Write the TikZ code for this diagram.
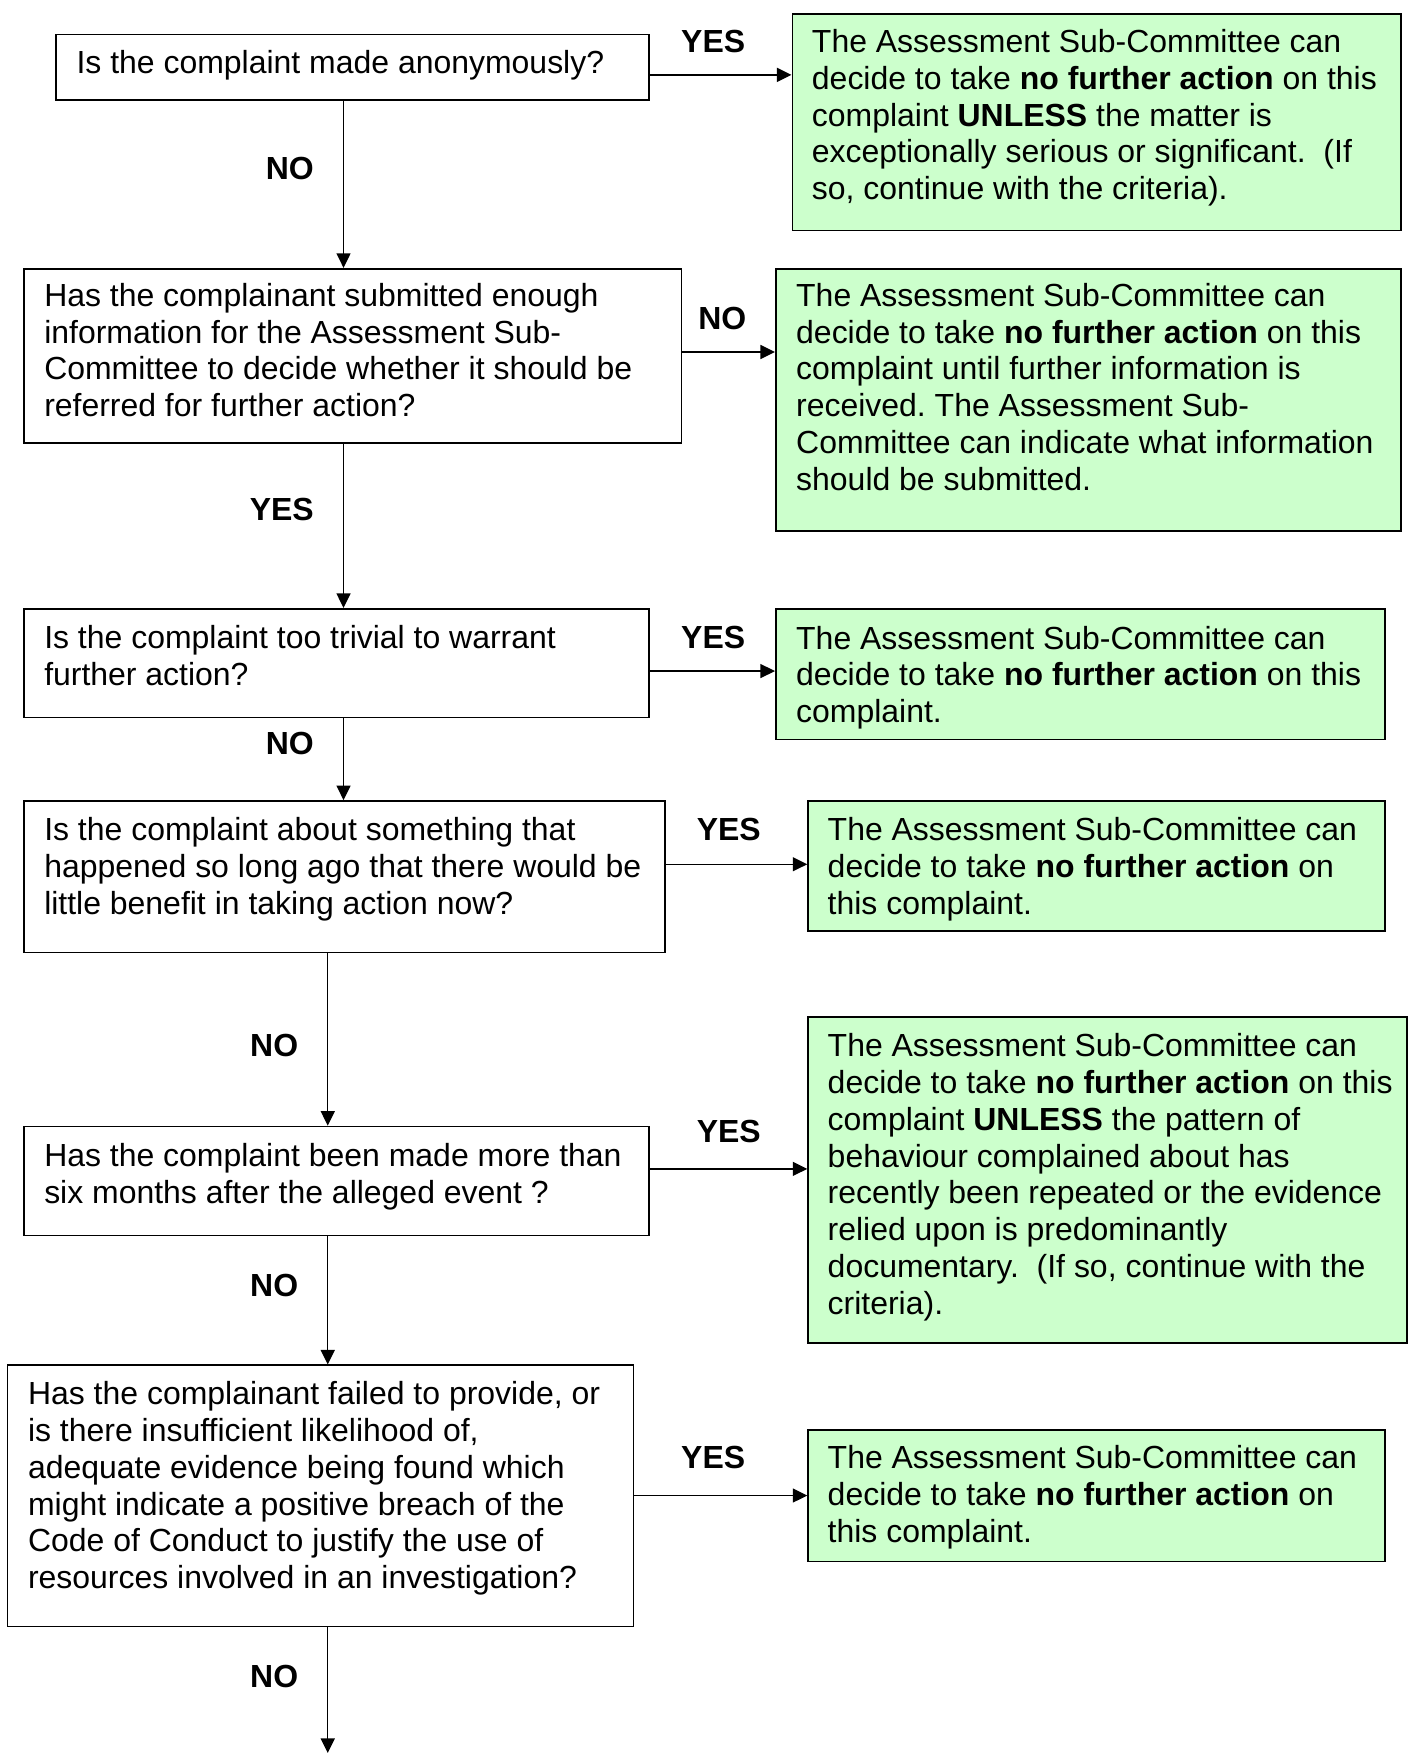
\documentclass[tikz,border=0pt]{standalone}
\usepackage{fontspec}
\setmainfont{Liberation Sans}
\usetikzlibrary{arrows.meta}
\definecolor{paleGreen}{HTML}{CCFFCC}
\frenchspacing
\begin{document}
\begin{tikzpicture}[x=1pt,y=-1pt,
  qbox/.style={draw=black, line width=1.6pt, fill=white, inner sep=0pt, anchor=north west},
  gbox/.style={draw=black, line width=1.6pt, fill=paleGreen, inner sep=0pt, anchor=north west},
  txt/.style={inner sep=0pt, anchor=north west, align=left, font=\fontsize{28.6}{32.9}\selectfont},
  lbl/.style={inner sep=0pt, anchor=base east, font=\fontsize{28.6}{32.9}\selectfont\bfseries},
  arr/.style={line width=1.3pt, -{Triangle[length=13pt,width=12.5pt]}}]
\useasboundingbox (0,0) rectangle (1260,1568.7);
\fill[white] (0,0) rectangle (1260,1568.7);

% question boxes
\node[qbox, minimum width=531pt, minimum height=58.4pt] (q1) at (49,30) {};
\node[qbox, minimum width=588pt, minimum height=155.8pt] (q2) at (21,239.7) {};
\node[qbox, minimum width=559pt, minimum height=97.3pt] (q3) at (21,544) {};
\node[qbox, minimum width=573pt, minimum height=135.5pt] (q4) at (21,716) {};
\node[qbox, minimum width=559pt, minimum height=97.4pt] (q5) at (21,1007.3) {};
\node[qbox, minimum width=560pt, minimum height=233.7pt] (q6) at (6,1221) {};

% outcome boxes
\node[gbox, minimum width=544.5pt, minimum height=193.5pt] (g1) at (708.3,12) {};
\node[gbox, minimum width=559.3pt, minimum height=234.6pt] (g2) at (693.5,239.7) {};
\node[gbox, minimum width=545.2pt, minimum height=117pt] (g3) at (693.5,544) {};
\node[gbox, minimum width=516.3pt, minimum height=116.3pt] (g4) at (722.4,716) {};
\node[gbox, minimum width=535.6pt, minimum height=291.9pt] (g5) at (722.4,909.4) {};
\node[gbox, minimum width=516.3pt, minimum height=117.5pt] (g6) at (722.4,1279) {};

% texts (top = first baseline - strut height)
\node[txt] (q1t) at (68.3,42.8) {\strut Is the complaint made anonymously?};
\node[txt] (q2t) at (39.4,251.0) {\strut Has the complainant submitted enough\\
information for the Assessment Sub-\\
Committee to decide whether it should be\\
referred for further action?};
\node[txt] (q3t) at (39.4,557.0) {\strut Is the complaint too trivial to warrant\\
further action?};
\node[txt] (q4t) at (39.4,729.0) {\strut Is the complaint about something that\\
happened so long ago that there would be\\
little benefit in taking action now?};
\node[txt] (q5t) at (39.4,1020.7) {\strut Has the complaint been made more than\\
six months after the alleged event ?};
\node[txt] (q6t) at (24.9,1233.8) {\strut Has the complainant failed to provide, or\\
is there insufficient likelihood of,\\
adequate evidence being found which\\
might indicate a positive breach of the\\
Code of Conduct to justify the use of\\
resources involved in an investigation?};

\node[txt] (g1t) at (726.4,23.9) {\strut The Assessment Sub-Committee can\\
decide to take \textbf{no further action} on this\\
complaint \textbf{UNLESS} the matter is\\
exceptionally serious or significant.\ \ (If\\
so, continue with the criteria).};
\node[txt] (g2t) at (712.3,251.0) {\strut The Assessment Sub-Committee can\\
decide to take \textbf{no further action} on this\\
complaint until further information is\\
received. The Assessment Sub-\\
Committee can indicate what information\\
should be submitted.};
\node[txt] (g3t) at (712.3,557.7) {\strut The Assessment Sub-Committee can\\
decide to take \textbf{no further action} on this\\
complaint.};
\node[txt] (g4t) at (740.5,729.0) {\strut The Assessment Sub-Committee can\\
decide to take \textbf{no further action} on\\
this complaint.};
\node[txt] (g5t) at (740.5,922.4) {\strut The Assessment Sub-Committee can\\
decide to take \textbf{no further action} on this\\
complaint \textbf{UNLESS} the pattern of\\
behaviour complained about has\\
recently been repeated or the evidence\\
relied upon is predominantly\\
documentary.\ \ (If so, continue with the\\
criteria).};
\node[txt] (g6t) at (740.5,1291.3) {\strut The Assessment Sub-Committee can\\
decide to take \textbf{no further action} on\\
this complaint.};

% connector guide coordinates
\coordinate (vA) at (307.4,0);
\coordinate (vB) at (293.3,0);
\coordinate (h1) at (0,67);
\coordinate (h2) at (0,315);
\coordinate (h3) at (0,600.5);
\coordinate (h4) at (0,773.4);
\coordinate (h5) at (0,1046);
\coordinate (h6) at (0,1338.3);
\coordinate (endpt) at (293.3,1568.7);

% vertical connectors
\draw[arr] (q1.south -| vA) -- (q2.north -| vA);
\draw[arr] (q2.south -| vA) -- (q3.north -| vA);
\draw[arr] (q3.south -| vA) -- (q4.north -| vA);
\draw[arr] (q4.south -| vB) -- (q5.north -| vB);
\draw[arr] (q5.south -| vB) -- (q6.north -| vB);
\draw[arr] (q6.south -| vB) -- (endpt);

% horizontal connectors
\draw[arr] (q1.east |- h1) -- (g1.west |- h1);
\draw[arr] (q2.east |- h2) -- (g2.west |- h2);
\draw[arr] (q3.east |- h3) -- (g3.west |- h3);
\draw[arr] (q4.east |- h4) -- (g4.west |- h4);
\draw[arr] (q5.east |- h5) -- (g5.west |- h5);
\draw[arr] (q6.east |- h6) -- (g6.west |- h6);

% labels
\node[lbl] (l1) at (667,47) {YES};
\node[lbl] (l2) at (281,161) {NO};
\node[lbl] (l3) at (668,295) {NO};
\node[lbl] (l4) at (281,466) {YES};
\node[lbl] (l5) at (667,580) {YES};
\node[lbl] (l6) at (281,675) {NO};
\node[lbl] (l7) at (681,752) {YES};
\node[lbl] (l8) at (267,945) {NO};
\node[lbl] (l9) at (681,1022) {YES};
\node[lbl] (l10) at (267,1160) {NO};
\node[lbl] (l11) at (667,1314) {YES};
\node[lbl] (l12) at (267,1510) {NO};
\end{tikzpicture}
\end{document}
